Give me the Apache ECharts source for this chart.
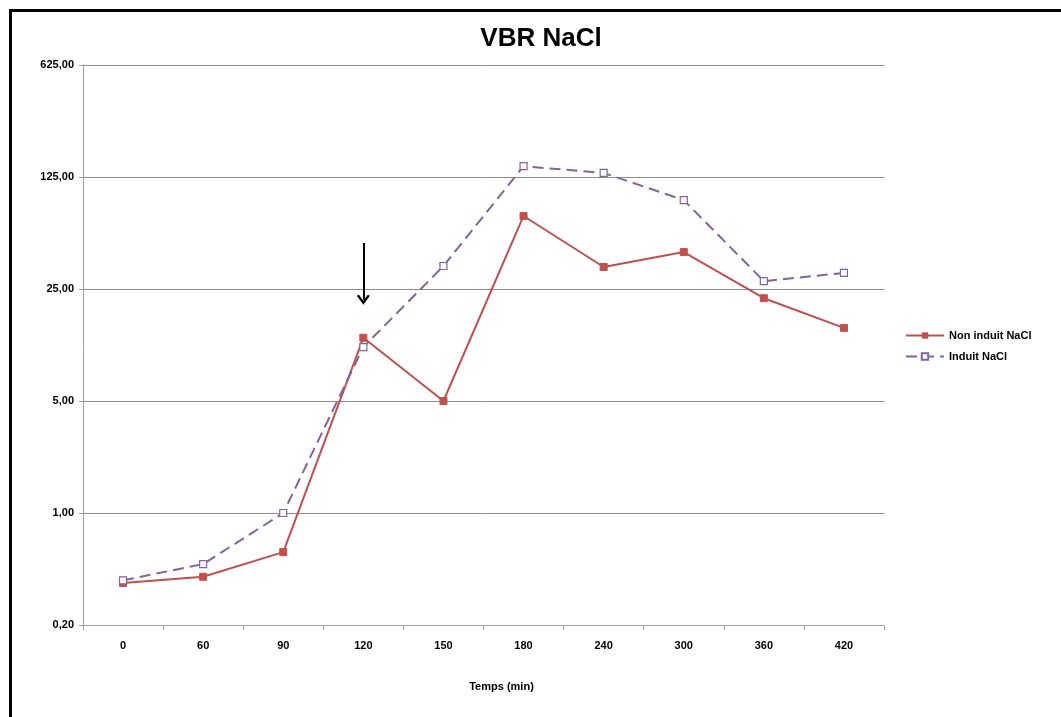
<!DOCTYPE html>
<html>
<head>
<meta charset="utf-8">
<script src="https://cdn.jsdelivr.net/npm/echarts@6/dist/echarts.min.js"></script>
<style>
html,body{margin:0;padding:0;background:#fff;}
#frame{position:absolute;left:9px;top:9px;width:1100px;height:800px;border-top:3px solid #000;border-left:3px solid #000;}
#chart{position:absolute;left:0;top:0;width:1061px;height:717px;}
</style>
</head>
<body>
<div id="frame"></div>
<div id="chart"></div>
<script>
var categories = ['0','60','90','120','150','180','240','300','360','420'];
var nonInduit = [0.366, 0.40, 0.57, 12.4, 5.0, 71.4, 34.3, 42.5, 21.9, 14.3];
var induit = [0.38, 0.48, 1.0, 10.85, 34.8, 146, 132.5, 89.7, 28, 31.5];
var arrowFrom = 48.4;
var arrowTo = 21.4;
var arrowAt = '120';

var chart = echarts.init(document.getElementById('chart'));
var bold = {fontFamily:'Liberation Sans, Arial, sans-serif', fontWeight:'bold', color:'#000'};
chart.setOption({
  animation:false,
  backgroundColor:'transparent',
  title:{text:'VBR NaCl', left:536, textAlign:'center', top:21,
    textStyle:Object.assign({}, bold, {fontSize:26})},
  grid:{left:83, right:177, top:65, bottom:92},
  legend:{orient:'vertical', left:900, top:325, itemGap:10, itemWidth:38, itemHeight:8,
    textStyle:Object.assign({}, bold, {fontSize:11}),
    data:['Non induit NaCl','Induit NaCl']},
  xAxis:{type:'category', data:categories, boundaryGap:true,
    name:'Temps (min)', nameLocation:'middle', nameGap:56,
    nameTextStyle:Object.assign({}, bold, {fontSize:11, padding:[0,0,0,36]}),
    axisLine:{lineStyle:{color:'#a0a0a0', width:1}},
    axisTick:{show:true, alignWithLabel:false, length:5, lineStyle:{color:'#a0a0a0'}},
    axisLabel:Object.assign({}, bold, {fontSize:11, margin:15})},
  yAxis:{type:'log', logBase:5, min:0.2, max:625,
    axisLine:{show:true, lineStyle:{color:'#a0a0a0'}},
    axisTick:{show:true, length:4, lineStyle:{color:'#a0a0a0'}},
    splitLine:{lineStyle:{color:'#8c8c8c', width:1}},
    axisLabel:Object.assign({}, bold, {fontSize:11, margin:9,
      formatter:function(v){return v.toFixed(2).replace('.',',');}})},
  series:[
    {name:'Non induit NaCl', type:'line', data:nonInduit,
      symbol:'rect', symbolSize:7, showAllSymbol:true,
      lineStyle:{color:'#C0504D', width:2},
      itemStyle:{color:'#C0504D', borderColor:'#C0504D'},
      markLine:{silent:true, symbol:['none','path://M0,9 L5,0 L10,9 L8.4,10 L5,4 L1.6,10 Z'], symbolSize:[13,10],
        label:{show:false},
        lineStyle:{color:'#000', width:2, type:'solid'},
        data:[[{coord:[arrowAt, arrowFrom]},{coord:[arrowAt, arrowTo]}]]}},
    {name:'Induit NaCl', type:'line', data:induit,
      symbol:'rect', symbolSize:7, showAllSymbol:true,
      lineStyle:{color:'#8064A2', width:2, type:[11,6]},
      itemStyle:{color:'#fff', borderColor:'#8064A2', borderWidth:1.2}}
  ]
});
</script>
</body>
</html>
